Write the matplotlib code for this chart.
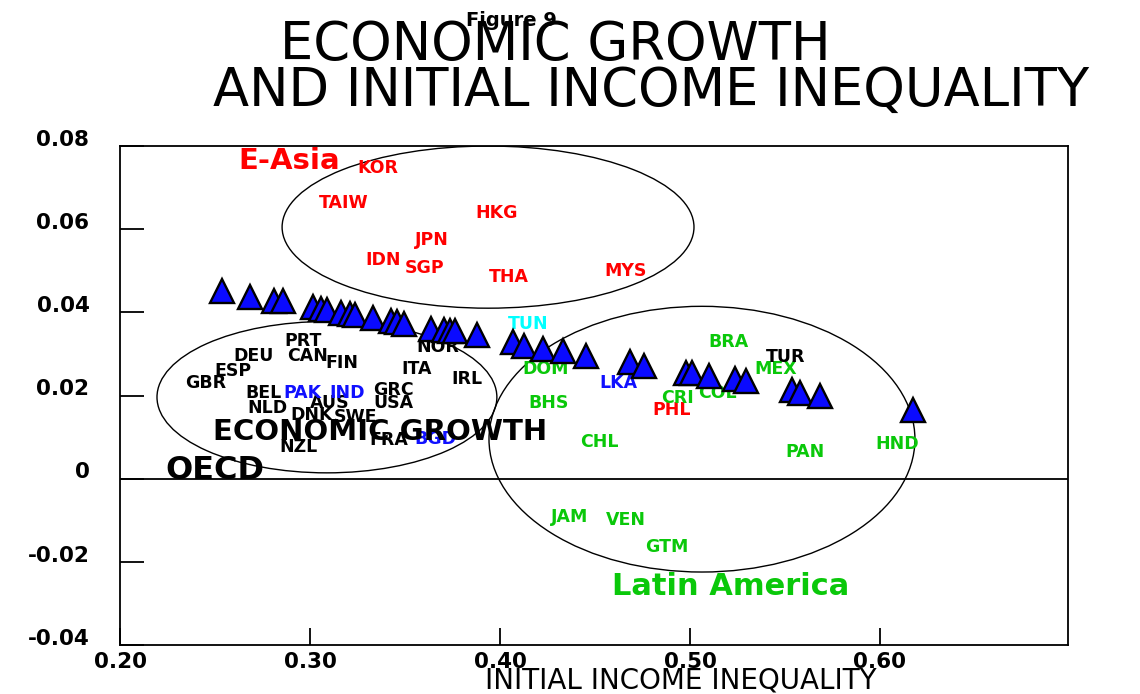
import matplotlib
matplotlib.use("Agg")
import matplotlib.pyplot as plt
from matplotlib.patches import Ellipse
from matplotlib.transforms import ScaledTranslation

plt.rcParams['font.family'] = ['DejaVu Sans']

# fitted growth vs initial inequality (triangles)
fit_x = [0.2537, 0.2684, 0.2811, 0.2858, 0.3016, 0.3058, 0.3089, 0.3163, 0.3211,
         0.3237, 0.3332, 0.3426, 0.3458, 0.3495, 0.3637, 0.3705, 0.3737, 0.3763,
         0.3879, 0.4068, 0.4126, 0.4226, 0.4332, 0.4453, 0.4684, 0.4758, 0.4979,
         0.5011, 0.5100, 0.5237, 0.5295, 0.5537, 0.5579, 0.5684, 0.6174]
fit_y = [0.0451, 0.0436, 0.0427, 0.0427, 0.0412, 0.0407, 0.0405, 0.0398, 0.0395,
         0.0393, 0.0386, 0.0378, 0.0376, 0.0373, 0.0361, 0.0357, 0.0354, 0.0354,
         0.0345, 0.0328, 0.0320, 0.0313, 0.0306, 0.0296, 0.0280, 0.0272, 0.0255,
         0.0255, 0.0248, 0.0239, 0.0234, 0.0214, 0.0207, 0.0200, 0.0166]

# country codes, positions, colours
red_names = ['KOR', 'TAIW', 'HKG', 'JPN', 'IDN', 'SGP', 'THA', 'MYS', 'PHL']
red_x = [0.3358, 0.3179, 0.3984, 0.3642, 0.3384, 0.3605, 0.4047, 0.4663, 0.4905]
red_y = [0.0747, 0.0663, 0.0639, 0.0573, 0.0525, 0.0506, 0.0484, 0.0499, 0.0164]

green_names = ['BRA', 'MEX', 'DOM', 'BHS', 'CRI', 'COL', 'CHL', 'PAN', 'HND',
               'JAM', 'VEN', 'GTM']
green_x = [0.5205, 0.5453, 0.4242, 0.4253, 0.4932, 0.5147, 0.4521, 0.5605, 0.6089,
           0.4368, 0.4663, 0.4879]
green_y = [0.0328, 0.0263, 0.0263, 0.0183, 0.0195, 0.0205, 0.0089, 0.0065, 0.0084,
           -0.0092, -0.0099, -0.0164]

black_names = ['TUR', 'PRT', 'DEU', 'CAN', 'FIN', 'ESP', 'GBR', 'BEL', 'NLD', 'AUS',
               'DNK', 'SWE', 'GRC', 'USA', 'ITA', 'IRL', 'NOR', 'NZL', 'FRA']
black_x = [0.5505, 0.2963, 0.2705, 0.2989, 0.3168, 0.2595, 0.2453, 0.2753, 0.2774,
           0.3105, 0.3011, 0.3237, 0.3437, 0.3437, 0.3563, 0.3826, 0.3674, 0.2937,
           0.3416]
black_y = [0.0292, 0.0330, 0.0296, 0.0296, 0.0277, 0.0260, 0.0229, 0.0205, 0.0169,
           0.0181, 0.0154, 0.0149, 0.0214, 0.0181, 0.0263, 0.0239, 0.0316, 0.0075,
           0.0092]

blue_names = ['PAK', 'IND', 'BGD', 'LKA']
blue_x = [0.2958, 0.3195, 0.3658, 0.4621]
blue_y = [0.0207, 0.0205, 0.0096, 0.0229]

cyan_names = ['TUN']
cyan_x = [0.4147]
cyan_y = [0.0371]

xticks = [0.20, 0.30, 0.40, 0.50, 0.60]
xtick_labels = ['0.20', '0.30', '0.40', '0.50', '0.60']
yticks = [-0.04, -0.02, 0, 0.02, 0.04, 0.06, 0.08]
ytick_labels = ['-0.04', '-0.02', '0', '0.02', '0.04', '0.06', '0.08']

RED = '#ff0000'
GREEN = '#0ac80a'
BLUE = '#1010ff'
CYAN = '#00ffff'

fig = plt.figure(figsize=(11.4, 6.94), dpi=100)
ax = fig.add_axes([0.1053, 0.0706, 0.8316, 0.719])

ax.plot(fit_x, fit_y, linestyle='none', marker='^', markersize=17,
        markerfacecolor='#0a0aff', markeredgecolor='black', markeredgewidth=1.7,
        zorder=5)

groups = [(red_names, red_x, red_y, RED), (green_names, green_x, green_y, GREEN),
          (black_names, black_x, black_y, 'black'), (blue_names, blue_x, blue_y, BLUE),
          (cyan_names, cyan_x, cyan_y, CYAN)]
for names, xs, ys, col in groups:
    for n, x, y in zip(names, xs, ys):
        ax.text(x, y, n, color=col, fontsize=12.5, fontweight='bold',
                ha='center', va='center', zorder=3)

# region ellipses
ax.add_patch(Ellipse((0.3937, 0.0605), 0.2168, 0.0390, fill=False, lw=1, ec='black'))
ax.add_patch(Ellipse((0.3089, 0.0196), 0.1789, 0.0364, fill=False, lw=1, ec='black'))
ax.add_patch(Ellipse((0.5063, 0.0095), 0.2242, 0.0639, fill=False, lw=1, ec='black'))

ax.text(0.2889, 0.0764, 'E-Asia', color=RED, fontsize=21, fontweight='bold',
        ha='center', va='center')
ax.text(0.2489, 0.0113, 'ECONOMIC GROWTH', color='black', fontsize=21,
        fontweight='bold', ha='left', va='center')
ax.text(0.2237, 0.0019, 'OECD', color='black', fontsize=23, fontweight='bold',
        ha='left', va='center')
ax.text(0.5216, -0.0260, 'Latin America', color=GREEN, fontsize=22,
        fontweight='bold', ha='center', va='center')

ax.axhline(0, color='black', lw=1.3)

ax.set_xlim(0.20, 0.699)
ax.set_ylim(-0.04, 0.08)
ax.set_xticks(xticks)
ax.set_xticklabels(xtick_labels, fontsize=15.5, fontweight='bold')
ax.set_yticks(yticks)
ax.set_yticklabels(ytick_labels, fontsize=15.5, fontweight='bold')
ax.tick_params(axis='x', direction='in', length=12, width=1.3, pad=5)
ax.tick_params(axis='y', direction='in', length=17, width=1.3, pad=22)
for lab in ax.get_yticklabels():
    lab.set_transform(lab.get_transform() + ScaledTranslation(0, 6 / 72, fig.dpi_scale_trans))
for s in ax.spines.values():
    s.set_linewidth(1.3)

ax.set_xlabel('INITIAL INCOME INEQUALITY', fontsize=20, va='center')
ax.xaxis.set_label_coords(0.591, -0.072)

fig.text(0.449, 0.971, 'Figure 9', fontsize=14, fontweight='bold',
         ha='center', va='center')
fig.text(0.487, 0.935, 'ECONOMIC GROWTH', fontsize=38, ha='center', va='center')
fig.text(0.571, 0.869, 'AND INITIAL INCOME INEQUALITY', fontsize=38,
         ha='center', va='center')

plt.savefig('out.png', dpi=100)
plt.close('all')
